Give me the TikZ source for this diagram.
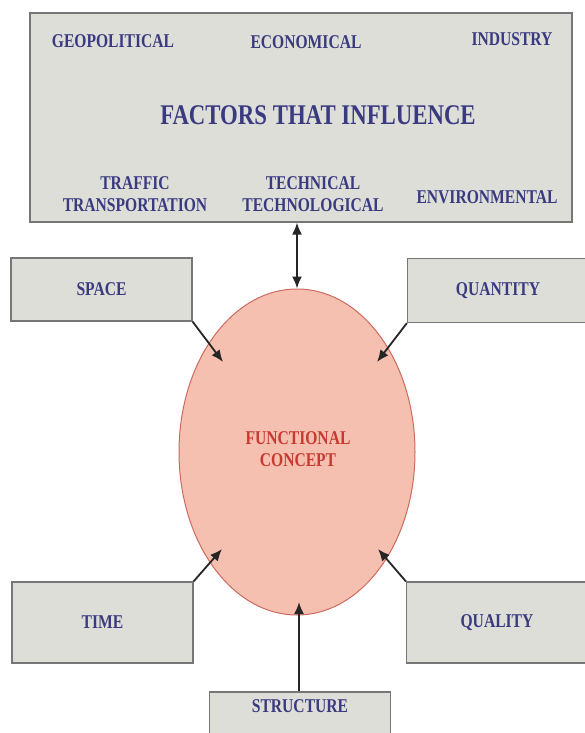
\documentclass[tikz,border=0pt]{standalone}
\usepackage{fontspec}
\newfontfamily\diafont[FakeStretch=0.8]{Liberation Serif}
\usetikzlibrary{shapes.geometric}
\usetikzlibrary{arrows.meta}
\usetikzlibrary{calc}
\definecolor{boxfill}{RGB}{222,222,217}
\definecolor{boxline}{RGB}{118,118,118}
\definecolor{ovalfill}{RGB}{245,192,176}
\definecolor{ovalline}{RGB}{205,105,95}
\definecolor{labelblue}{RGB}{58,58,128}
\definecolor{labelred}{RGB}{200,58,50}

\begin{document}
\begin{tikzpicture}[
  x=1pt, y=-1pt,
  factorbox/.style={draw=boxline, fill=boxfill, line width=1.2pt, rectangle},
  aspect/.style={draw=boxline, fill=boxfill, line width=1.2pt, rectangle, minimum width=181pt},
  label/.style={text=labelblue, inner sep=0pt, align=center, font=\diafont\bfseries\fontsize{19.5}{22}\selectfont},
  concept/.style={draw=ovalline, fill=ovalfill, line width=1pt, ellipse},
  arr/.style={draw=black!85, line width=1.8pt, -{Latex[length=12pt,width=10pt]}},
]
\useasboundingbox (0,0) rectangle (584,733);

\node (factors) [factorbox, minimum width=542pt, minimum height=209pt] at (301,117.5) {};
\node (geo) [label] at (113,41) {GEOPOLITICAL};
\node (eco) [label] at (306,42) {ECONOMICAL};
\node (ind) [label] at (512,39) {INDUSTRY};
\node (title) [label, font=\diafont\bfseries\fontsize{28.5}{30}\selectfont] at (318,115) {FACTORS THAT INFLUENCE};
\node (traffic) [label] at (135,194) {TRAFFIC\\TRANSPORTATION};
\node (tech) [label] at (313,194) {TECHNICAL\\TECHNOLOGICAL};
\node (env) [label] at (487,197) {ENVIRONMENTAL};

\node (center) [concept, minimum width=236pt, minimum height=326pt] at (297,452) {};
\node (func) [label, text=labelred] at (298,449) {FUNCTIONAL\\CONCEPT};

\node (space) [aspect, minimum height=63pt] at (101.5,289.5) {};
\node [label] at (space) {SPACE};
\node (quantity) [aspect, minimum height=64pt] at (498,290.5) {};
\node [label] at (quantity) {QUANTITY};
\node (time) [aspect, minimum height=81pt] at (102.5,622.5) {};
\node [label] at (time) {TIME};
\node (quality) [aspect, minimum height=81pt] at (497,622.5) {};
\node [label] at (quality) {QUALITY};
\node (structure) [aspect, minimum height=60pt] at (300,722) {};
\node [label] at (300,706) {STRUCTURE};

% arrow tips inside the oval
\coordinate (tipspace) at (223,362);
\coordinate (tipquantity) at (377,362);
\coordinate (tiptime) at (222,549);
\coordinate (tipquality) at (378,549);
\coordinate (tipstructure) at (299,602);

\draw[arr, {Latex[length=12pt,width=10pt]}-{Latex[length=12pt,width=10pt]}]
  (factors.south -| center.north) -- (center.north);
\draw[arr] (space.south east) -- (tipspace);
\draw[arr] (quantity.south west) -- (tipquantity);
\draw[arr] (time.north east) -- (tiptime);
\draw[arr] (quality.north west) -- (tipquality);
\draw[arr] (structure.north -| tipstructure) -- (tipstructure);
\end{tikzpicture}
\end{document}
